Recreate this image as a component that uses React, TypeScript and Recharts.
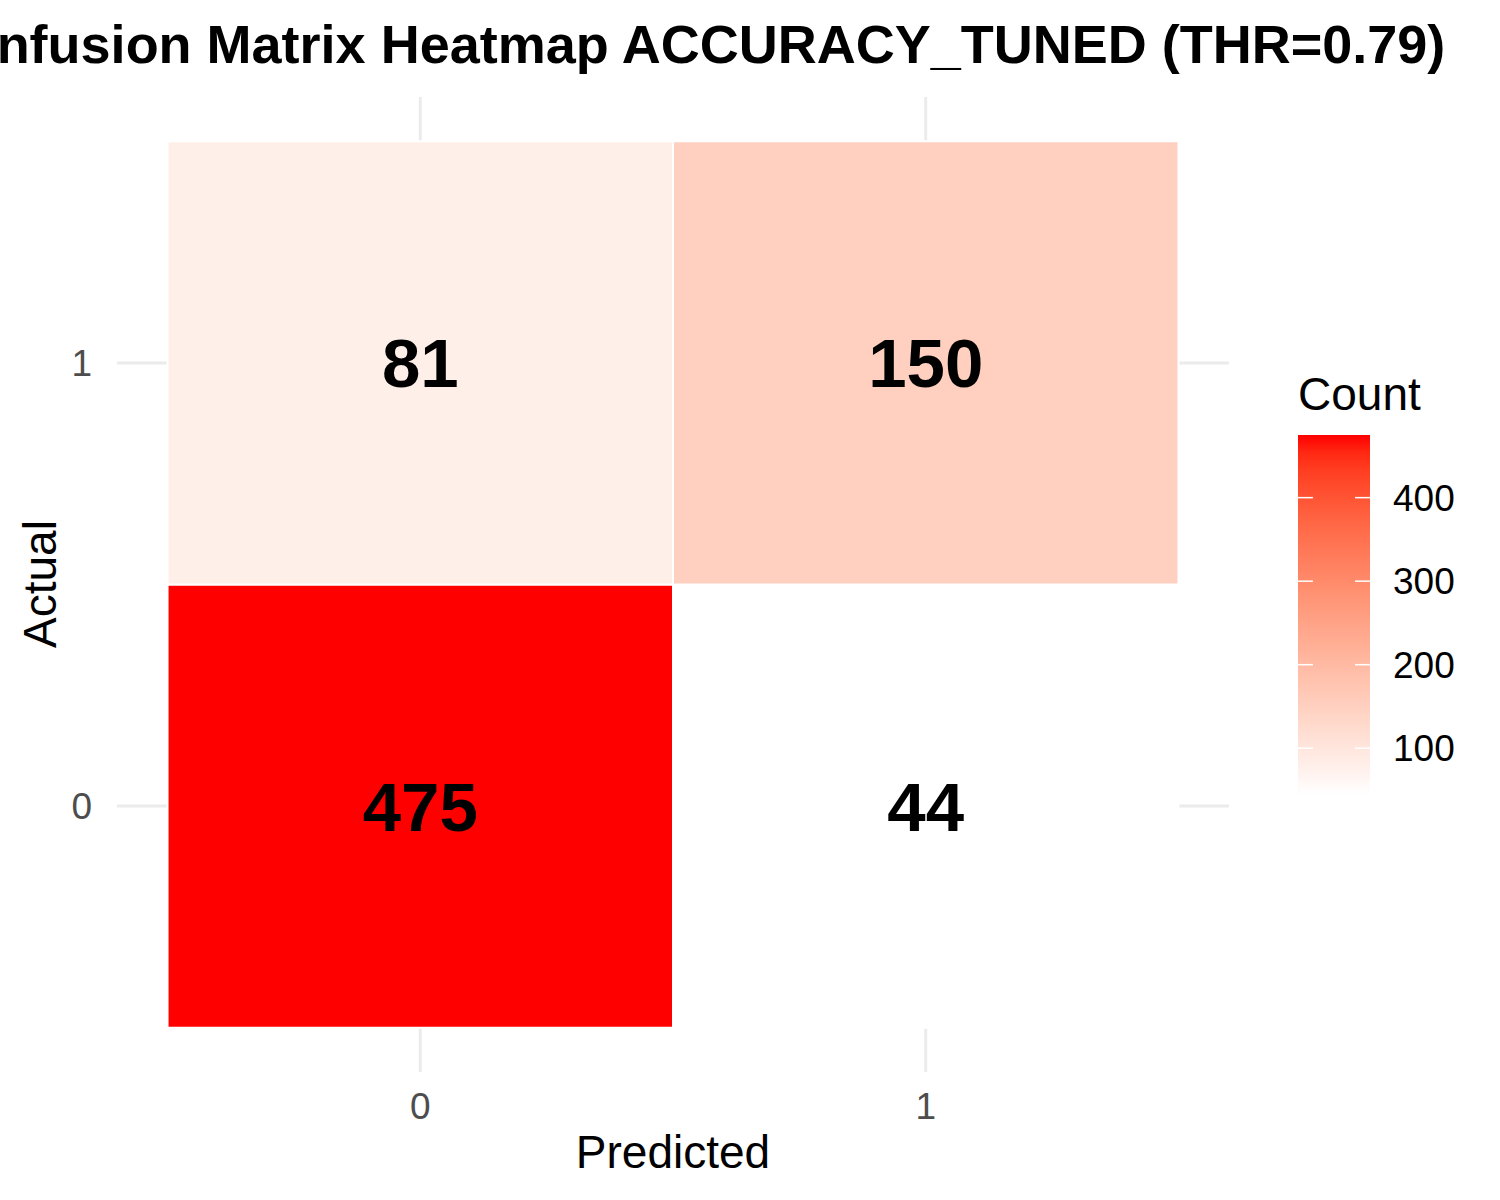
import {
  ScatterChart,
  Scatter,
  XAxis,
  YAxis,
  CartesianGrid,
  ReferenceArea,
  Customized,
} from "recharts";

const PREDICTED = [0, 1, 0, 1];
const ACTUAL = [0, 0, 1, 1];
const COUNTS = [475, 44, 81, 150];
const AXIS_TICKS = [0, 1];
const LEGEND_BREAKS = [100, 200, 300, 400];
const DOMAIN: [number, number] = [-0.6, 1.6];

const TITLE = "Confusion Matrix Heatmap ACCURACY_TUNED (THR=0.79)";
const FONT = "'Liberation Sans', Arial, Helvetica, sans-serif";

const data = COUNTS.map((count, i) => ({
  predicted: PREDICTED[i],
  actual: ACTUAL[i],
  count,
}));

const minCount = Math.min(...COUNTS);
const maxCount = Math.max(...COUNTS);

// white -> red, interpolated in CIELAB like ggplot's scale_fill_gradient
const toLinear = (c: number) => {
  const v = c / 255;
  return v <= 0.04045 ? v / 12.92 : Math.pow((v + 0.055) / 1.055, 2.4);
};
const fromLinear = (v: number) => {
  const c = v <= 0.0031308 ? 12.92 * v : 1.055 * Math.pow(v, 1 / 2.4) - 0.055;
  return Math.round(Math.min(1, Math.max(0, c)) * 255);
};
const WHITE_POINT = [0.95047, 1, 1.08883];
const rgbToLab = (r: number, g: number, b: number) => {
  const R = toLinear(r), G = toLinear(g), B = toLinear(b);
  const xyz = [
    0.4124 * R + 0.3576 * G + 0.1805 * B,
    0.2126 * R + 0.7152 * G + 0.0722 * B,
    0.0193 * R + 0.1192 * G + 0.9505 * B,
  ].map((v, i) => v / WHITE_POINT[i]);
  const f = (t: number) => (t > 216 / 24389 ? Math.cbrt(t) : (24389 / 27 * t + 16) / 116);
  const [fx, fy, fz] = xyz.map(f);
  return [116 * fy - 16, 500 * (fx - fy), 200 * (fy - fz)];
};
const labToHex = (L: number, a: number, bb: number) => {
  const fy = (L + 16) / 116;
  const fx = fy + a / 500;
  const fz = fy - bb / 200;
  const inv = (t: number) => (t * t * t > 216 / 24389 ? t * t * t : (116 * t - 16) / (24389 / 27));
  const [X, Y, Z] = [inv(fx), inv(fy), inv(fz)].map((v, i) => v * WHITE_POINT[i]);
  const r = 3.2406 * X - 1.5372 * Y - 0.4986 * Z;
  const g = -0.9689 * X + 1.8758 * Y + 0.0415 * Z;
  const b = 0.0557 * X - 0.204 * Y + 1.057 * Z;
  return "#" + [r, g, b].map((v) => fromLinear(v).toString(16).padStart(2, "0")).join("");
};
const LOW = rgbToLab(255, 255, 255);
const HIGH = rgbToLab(255, 0, 0);
const rampAt = (t: number) =>
  labToHex(LOW[0] + (HIGH[0] - LOW[0]) * t, LOW[1] + (HIGH[1] - LOW[1]) * t, LOW[2] + (HIGH[2] - LOW[2]) * t);
const fillFor = (v: number) => rampAt((v - minCount) / (maxCount - minCount));

const BAR = { x: 1298, y: 435, w: 72, h: 360 };

// grid only at the category positions (no frame at the panel edges)
const frac = (t: number) => (t - DOMAIN[0]) / (DOMAIN[1] - DOMAIN[0]);
const gridX = ({ offset }: any) => AXIS_TICKS.map((t) => offset.left + frac(t) * offset.width);
const gridY = ({ offset }: any) => AXIS_TICKS.map((t) => offset.top + (1 - frac(t)) * offset.height);

const Annotations = () => {
  const stops = Array.from({ length: 21 }, (_, i) => i / 20);
  const yFor = (v: number) => BAR.y + BAR.h - ((v - minCount) / (maxCount - minCount)) * BAR.h;
  return (
    <g style={{ fontFamily: FONT }}>
      <defs>
        <linearGradient id="countGrad" x1="0" y1="1" x2="0" y2="0">
          {stops.map((t) => (
            <stop key={t} offset={`${t * 100}%`} stopColor={rampAt(t)} />
          ))}
        </linearGradient>
      </defs>
      <text x={685} y={63} textAnchor="middle" fontSize={54} fontWeight="bold" fill="#000">
        {TITLE}
      </text>
      <text x={673} y={1168} textAnchor="middle" fontSize={46} fill="#000">
        Predicted
      </text>
      <text transform="translate(56,584) rotate(-90)" textAnchor="middle" fontSize={46} fill="#000">
        Actual
      </text>
      <text x={1298} y={410} fontSize={46} fill="#000">
        Count
      </text>
      <rect x={BAR.x} y={BAR.y} width={BAR.w} height={BAR.h} fill="url(#countGrad)" />
      {LEGEND_BREAKS.map((b) => (
        <g key={b}>
          <line x1={BAR.x} x2={BAR.x + 15} y1={yFor(b)} y2={yFor(b)} stroke="#fff" strokeWidth={1.5} />
          <line x1={BAR.x + BAR.w - 15} x2={BAR.x + BAR.w} y1={yFor(b)} y2={yFor(b)} stroke="#fff" strokeWidth={1.5} />
          <text x={1393} y={yFor(b)} dy="0.355em" fontSize={37} fill="#000">
            {b}
          </text>
        </g>
      ))}
    </g>
  );
};

const CountLabel = (props: any) => (
  <text
    x={props.cx}
    y={props.cy}
    dy="0.355em"
    textAnchor="middle"
    fontSize={69}
    fontWeight="bold"
    fill="#000"
    style={{ fontFamily: FONT }}
  >
    {props.payload.count}
  </text>
);

export default function App() {
  return (
    <div style={{ position: "absolute", left: 0, top: 0, background: "#fff", fontFamily: FONT }}>
      <ScatterChart width={1500} height={1200} margin={{ top: 97, right: 271, bottom: 0, left: 0 }}>
        <CartesianGrid
          stroke="#EBEBEB"
          strokeWidth={3}
          verticalCoordinatesGenerator={gridX}
          horizontalCoordinatesGenerator={gridY}
        />
        <XAxis
          type="number"
          dataKey="predicted"
          domain={DOMAIN}
          ticks={AXIS_TICKS}
          height={128}
          axisLine={false}
          tickLine={false}
          tickSize={0}
          tickMargin={21}
          tick={{ fill: "#4D4D4D", fontSize: 37 }}
        />
        <YAxis
          type="number"
          dataKey="actual"
          domain={DOMAIN}
          ticks={AXIS_TICKS}
          width={117}
          axisLine={false}
          tickLine={false}
          tickSize={0}
          tickMargin={25}
          tick={{ fill: "#4D4D4D", fontSize: 37 }}
        />
        {data.map((d) => (
          <ReferenceArea
            key={`${d.predicted}-${d.actual}`}
            x1={d.predicted - 0.5}
            x2={d.predicted + 0.5}
            y1={d.actual - 0.5}
            y2={d.actual + 0.5}
            fill={fillFor(d.count)}
            fillOpacity={1}
            stroke="#fff"
            strokeWidth={2}
            strokeOpacity={1}
          />
        ))}
        <Scatter data={data} shape={CountLabel} isAnimationActive={false} />
        <Customized component={<Annotations />} />
      </ScatterChart>
    </div>
  );
}
